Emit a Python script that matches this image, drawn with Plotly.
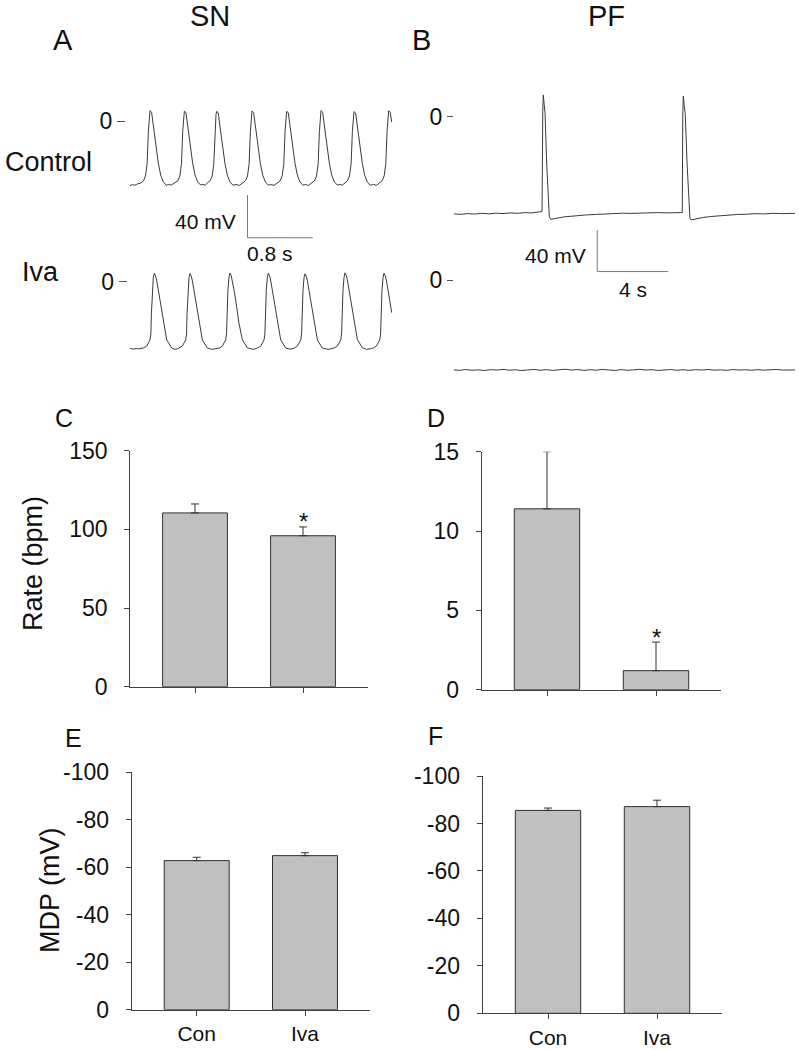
import plotly.graph_objects as go

# ---- data ----
groups = ["Con", "Iva"]

rate_sn = [110.4, 95.9]
rate_sn_err = [5.7, 5.6]
rate_pf = [11.4, 1.2]
rate_pf_err = [3.6, 1.8]
mdp_sn = [-62.8, -64.9]
mdp_sn_err = [1.4, 1.2]
mdp_pf = [-85.5, -87.1]
mdp_pf_err = [1.0, 2.7]

# SN recordings (time in s, potential in mV)
sn_ctrl_t = [
    0.000, 0.030, 0.060, 0.090, 0.125, 0.165, 0.190, 0.210, 0.225, 0.237, 0.245, 0.265, 0.286, 0.319, 0.347, 0.376, 0.408, 0.445, 0.475, 0.505,
    0.546, 0.586, 0.611, 0.631, 0.646, 0.658, 0.666, 0.686, 0.707, 0.740, 0.768, 0.797, 0.829, 0.866, 0.895, 0.920,
    0.942, 0.982, 1.007, 1.027, 1.042, 1.054, 1.062, 1.082, 1.103, 1.136, 1.164, 1.193, 1.225, 1.262, 1.300, 1.340,
    1.375, 1.415, 1.440, 1.460, 1.475, 1.487, 1.495, 1.515, 1.536, 1.569, 1.597, 1.626, 1.658, 1.695, 1.730, 1.765,
    1.800, 1.840, 1.865, 1.885, 1.900, 1.912, 1.920, 1.940, 1.961, 1.994, 2.022, 2.051, 2.083, 2.120, 2.150, 2.185,
    2.221, 2.261, 2.286, 2.306, 2.321, 2.333, 2.341, 2.361, 2.382, 2.415, 2.443, 2.472, 2.504, 2.541, 2.575, 2.600,
    2.625, 2.665, 2.690, 2.710, 2.725, 2.737, 2.745, 2.765, 2.786, 2.819, 2.847, 2.876, 2.908, 2.945, 2.985, 3.020,
    3.050, 3.090, 3.115, 3.135, 3.150, 3.162, 3.170, 3.190, 3.207]
sn_ctrl_mv = [
    -60.5, -59.6, -60.2, -59.0, -58.4, -56.2, -51.5, -40.0, -10.0, 6.0, 9.7, 8.0, -5.3, -24.0, -39.6, -50.6, -57.0, -60.3, -59.4, -60.1,
    -58.4, -56.0, -51.5, -40.0, -10.0, 6.0, 9.2, 7.8, -5.5, -24.0, -39.6, -50.6, -57.0, -60.0, -59.3, -60.4,
    -58.4, -56.0, -51.5, -40.0, -10.0, 6.0, 9.0, 7.6, -5.5, -24.3, -39.8, -50.8, -57.2, -60.2, -59.5, -60.4,
    -58.6, -56.0, -51.5, -40.0, -10.0, 6.0, 9.4, 7.9, -5.3, -24.0, -39.6, -50.6, -57.0, -60.1, -59.6, -60.3,
    -58.5, -56.2, -51.5, -40.0, -10.0, 6.0, 9.0, 7.7, -5.6, -24.2, -39.7, -50.7, -57.1, -60.2, -59.4, -60.5,
    -58.4, -56.0, -51.5, -40.0, -10.0, 6.0, 9.7, 8.0, -5.3, -24.0, -39.6, -50.6, -57.0, -60.1, -59.3, -60.3,
    -58.6, -56.1, -51.5, -40.0, -10.0, 6.0, 8.8, 7.5, -5.6, -24.3, -39.8, -50.8, -57.1, -60.2, -59.5, -60.3,
    -58.4, -56.0, -51.5, -40.0, -10.0, 6.0, 9.6, 7.9, -1.0]

sn_iva_t = [
    0.000, 0.040, 0.080, 0.108, 0.168, 0.205, 0.245, 0.256, 0.262, 0.273, 0.286, 0.298, 0.313, 0.326, 0.347, 0.368, 0.408, 0.450, 0.511, 0.551, 0.585,
    0.605, 0.642, 0.682, 0.693, 0.699, 0.710, 0.723, 0.735, 0.750, 0.763, 0.784, 0.805, 0.845, 0.887, 0.948, 1.001, 1.045,
    1.095, 1.132, 1.172, 1.183, 1.189, 1.200, 1.213, 1.225, 1.240, 1.253, 1.274, 1.295, 1.335, 1.377, 1.438, 1.511, 1.545,
    1.565, 1.602, 1.642, 1.653, 1.659, 1.670, 1.683, 1.695, 1.710, 1.723, 1.744, 1.765, 1.805, 1.847, 1.908, 1.961, 1.985,
    2.015, 2.052, 2.092, 2.103, 2.109, 2.120, 2.133, 2.145, 2.160, 2.173, 2.194, 2.215, 2.255, 2.297, 2.358, 2.430, 2.470,
    2.505, 2.542, 2.582, 2.593, 2.599, 2.610, 2.623, 2.635, 2.650, 2.663, 2.684, 2.705, 2.745, 2.787, 2.848, 2.901, 2.950,
    2.983, 3.020, 3.060, 3.071, 3.077, 3.088, 3.101, 3.113, 3.128, 3.141, 3.162, 3.183, 3.207]
sn_iva_mv = [
    -62.4, -63.2, -62.6, -63.0, -62.0, -60.3, -54.6, -49.0, -30.0, -8.0, 4.0, 7.9, 5.5, 1.6, -7.8, -17.2, -39.0, -54.6, -62.1, -63.4, -62.8,
    -62.0, -60.3, -54.6, -49.0, -30.0, -8.0, 4.0, 7.6, 5.3, 1.4, -8.0, -17.4, -39.2, -54.7, -62.2, -63.4, -62.9,
    -62.1, -60.3, -54.6, -49.0, -30.0, -8.0, 4.0, 8.2, 5.8, 1.8, -7.6, -17.0, -38.8, -54.5, -62.0, -63.5, -62.7,
    -62.0, -60.3, -54.6, -49.0, -30.0, -8.0, 4.0, 8.0, 5.5, 1.6, -7.8, -17.2, -39.0, -54.6, -62.1, -63.3, -62.8,
    -62.2, -60.3, -54.6, -49.0, -30.0, -8.0, 4.0, 7.4, 5.1, 1.2, -8.2, -17.6, -39.3, -54.8, -62.2, -63.4, -62.8,
    -62.0, -60.3, -54.6, -49.0, -30.0, -8.0, 4.0, 8.3, 5.9, 1.9, -7.5, -17.0, -38.8, -54.4, -62.0, -63.4, -62.7,
    -62.1, -60.3, -54.6, -49.0, -30.0, -8.0, 4.0, 8.0, 5.6, 1.6, -7.8, -17.2, -29.0]

# PF recordings
pf_ctrl_t = [
    0.0, 0.4, 0.8, 1.2, 1.6, 2.0, 2.4, 2.8, 3.2, 3.6, 4.0, 4.4, 4.8, 5.00,
    5.04, 5.07, 5.12, 5.17, 5.26, 5.41, 5.49, 5.8, 6.2, 6.6, 7.0, 7.5, 8.0, 8.5,
    9.0, 9.5, 10.0, 10.5, 11.0, 11.5, 12.0, 12.5, 12.90,
    12.93, 12.96, 13.01, 13.07, 13.17, 13.33, 13.40, 13.7, 14.1, 14.5, 15.0, 15.5,
    16.0, 16.5, 17.0, 17.5, 18.0, 18.5, 19.0, 19.25]
pf_ctrl_mv = [
    -93.4, -93.9, -93.2, -93.6, -92.9, -93.4, -92.8, -93.1, -92.5, -92.9, -92.2, -92.5, -91.6, -91.3,
    5.0, 20.9, 12.0, 3.3, -44.8, -96.2, -98.7, -97.6, -96.4, -95.8, -95.0, -94.4, -94.0, -93.5,
    -93.3, -92.8, -93.0, -92.5, -92.7, -92.2, -92.5, -92.0, -92.2,
    5.0, 19.9, 11.0, 2.0, -45.0, -97.5, -99.3, -98.0, -96.8, -96.0, -95.2, -94.6,
    -94.0, -93.8, -93.2, -93.5, -92.9, -93.2, -92.7, -92.9]

pf_iva_dt = 0.35
pf_iva_mv = [
    -86.3, -86.9, -86.1, -86.8, -86.4, -87.0, -86.2, -86.6, -85.9, -86.7,
    -86.3, -87.1, -86.5, -86.0, -86.8, -86.2, -86.9, -86.4, -85.8, -86.6,
    -86.1, -86.9, -86.3, -86.7, -86.0, -86.5, -87.0, -86.2, -86.8, -86.4,
    -85.9, -86.6, -86.2, -87.0, -86.5, -86.1, -86.8, -86.3, -86.9, -86.2,
    -86.6, -86.0, -86.7, -86.4, -86.9, -86.1, -86.6, -86.3, -86.8, -86.2,
    -86.7, -86.4, -86.0, -86.6, -86.3, -86.5]

# calibration bars: (start time, top mV), length in s and mV
sn_bar = (1.44, -69.4, 0.8, 40)
pf_bar = (8.11, -108.9, 4.0, 40)

# ---- layout helpers (positions in page pixels) ----
W, H = 799, 1050
FONT = "Arial, Liberation Sans, sans-serif"
TRACE_COL = "#3a3a3a"
AX_COL = "#404040"


def xdom(a, b):
    return [max(0, a / W), min(1, b / W)]


def ydom(top, bot):
    return [max(0, 1 - bot / H), min(1, 1 - top / H)]


def px_x(x):
    return x / W


def px_y(y):
    return 1 - y / H


fig = go.Figure()

# trace panels: left, right, t0 px, px per s, top, bottom, 0 mV px, px per mV, tick length
trace_panels = {
    "1": (126, 396, 130, 81.6, 95, 248, 121, 1.067, 8),
    "2": (127.7, 396, 130, 81.6, 262, 356, 281.7, 1.067, 8),
    "3": (454, 797, 453.3, 17.75, 82, 276, 116.7, 1.04, 6),
    "4": (454, 797, 453.3, 17.75, 265, 382, 280, 1.04, 6),
}

for k, (l, r, t0, pps, top, bot, zero, ppm, tl) in trace_panels.items():
    xa = "xaxis" if k == "1" else "xaxis" + k
    ya = "yaxis" if k == "1" else "yaxis" + k
    fig.layout[xa] = dict(domain=xdom(l, r), range=[(l - t0) / pps, (r - t0) / pps],
                          visible=False, automargin=False, anchor="y" if k == "1" else "y" + k)
    fig.layout[ya] = dict(domain=ydom(top, bot), range=[(zero - bot) / ppm, (zero - top) / ppm],
                          anchor="x" if k == "1" else "x" + k, showline=False, showgrid=False,
                          zeroline=False, tickvals=[0], ticktext=["0"], ticks="outside",
                          ticklen=tl, tickcolor="#555", tickwidth=1, automargin=False,
                          tickfont=dict(family=FONT, size=23, color="#111"))

line_style = dict(color=TRACE_COL, width=1)
fig.add_trace(go.Scatter(x=sn_ctrl_t, y=sn_ctrl_mv, mode="lines", line=line_style, xaxis="x", yaxis="y"))
fig.add_trace(go.Scatter(x=sn_iva_t, y=sn_iva_mv, mode="lines", line=line_style, xaxis="x2", yaxis="y2"))
fig.add_trace(go.Scatter(x=pf_ctrl_t, y=pf_ctrl_mv, mode="lines", line=line_style, xaxis="x3", yaxis="y3"))
fig.add_trace(go.Scatter(y=pf_iva_mv, x0=0, dx=pf_iva_dt, mode="lines", line=line_style, xaxis="x4", yaxis="y4"))

bar_style = dict(color="#7a7a7a", width=1)
for (t, v, lt, lv), xa, ya in [(sn_bar, "x", "y"), (pf_bar, "x3", "y3")]:
    fig.add_trace(go.Scatter(x=[t, t, t + lt], y=[v, v - lv, v - lv], mode="lines",
                             line=bar_style, xaxis=xa, yaxis=ya))

# bar panels: tick px of Con, px per unit, y0 px, px at ytop, ytop value
bar_panels = {
    "5": (195, 108, 686.7, 450.6, 150, [0, 50, 100, 150], rate_sn, rate_sn_err, False),
    "6": (547, 109, 689.7, 451.7, 15, [0, 5, 10, 15], rate_pf, rate_pf_err, False),
    "7": (196.7, 108.3, 1009.7, 772.3, -100, [0, -20, -40, -60, -80, -100], mdp_sn, mdp_sn_err, True),
    "8": (548, 109, 1013.3, 776, -100, [0, -20, -40, -60, -80, -100], mdp_pf, mdp_pf_err, True),
}

for k, (c0, ppu, y0, ytop_px, ytop, tv, vals, errs, neg) in bar_panels.items():
    show_lbl = k in ("7", "8")
    fig.layout["xaxis" + k] = dict(
        domain=xdom(c0 - 0.6 * ppu, c0 + 1.6 * ppu), range=[-0.6, 1.6], anchor="y" + k,
        showline=True, linecolor=AX_COL, linewidth=1, ticks="outside", ticklen=5,
        tickcolor=AX_COL, tickvals=[0, 1], ticktext=groups if show_lbl else ["", ""],
        showgrid=False, zeroline=False, ticklabelstandoff=0, automargin=False,
        tickfont=dict(family=FONT, size=21, color="#111"))
    fig.layout["yaxis" + k] = dict(
        domain=ydom(ytop_px, y0), range=[0, ytop], anchor="x" + k,
        showline=True, linecolor=AX_COL, linewidth=1, ticks="outside", ticklen=5,
        tickcolor=AX_COL, tickvals=tv, ticktext=[str(v) for v in tv], showgrid=False,
        zeroline=False, ticklabelstandoff=12, automargin=False,
        tickfont=dict(family=FONT, size=23, color="#111"))
    if neg:
        err = dict(type="data", symmetric=False, array=[0, 0], arrayminus=errs)
    else:
        err = dict(type="data", symmetric=False, array=errs, arrayminus=[0, 0])
    err.update(color="#303030", thickness=1, width=4)
    fig.add_trace(go.Bar(x=[0, 1], y=vals, width=0.6, error_y=err,
                         marker=dict(color="#c0c0c0", line=dict(color="#303030", width=1)),
                         xaxis="x" + k, yaxis="y" + k))

annotations = []


def txt(text, x, y, size, **kw):
    d = dict(text=text, x=px_x(x), y=px_y(y), xref="paper", yref="paper", showarrow=False,
             font=dict(family=FONT, size=size, color="#111"), xanchor="center", yanchor="middle")
    d.update(kw)
    annotations.append(d)


txt("SN", 210, 16, 29)
txt("PF", 606, 16, 29)
txt("A", 63, 40, 29)
txt("B", 422, 40, 29)
txt("C", 64, 418, 25)
txt("D", 436, 418, 25)
txt("E", 73, 738, 25)
txt("F", 436, 736, 25)
txt("Control", 48, 162, 27)
txt("Iva", 40, 272, 27)
txt("40 mV", 238, 222, 21, xanchor="right")
txt("0.8 s", 270, 254, 21)
txt("40 mV", 588, 255, 21, xanchor="right")
txt("4 s", 633, 289, 21)
txt("Rate (bpm)", 33, 564, 27, textangle=-90)
txt("MDP (mV)", 50, 890, 27, textangle=-90)

# significance stars above the Iva error bars
for k, vals, errs in [("5", rate_sn, rate_sn_err), ("6", rate_pf, rate_pf_err)]:
    annotations.append(dict(text="*", x=1, y=vals[1] + errs[1], xref="x" + k, yref="y" + k,
                            showarrow=False, yanchor="middle", yshift=5,
                            font=dict(family=FONT, size=24, color="#111")))

fig.update_layout(
    width=W, height=H, margin=dict(l=0, r=0, t=0, b=0, autoexpand=False),
    paper_bgcolor="white", plot_bgcolor="rgba(0,0,0,0)",
    showlegend=False, annotations=annotations,
)

# drop the browser's default 8px page margin so the figure fills the window
fig.write_html("out.html", config={"displayModeBar": False},
               post_script="document.body.style.margin='0';")
